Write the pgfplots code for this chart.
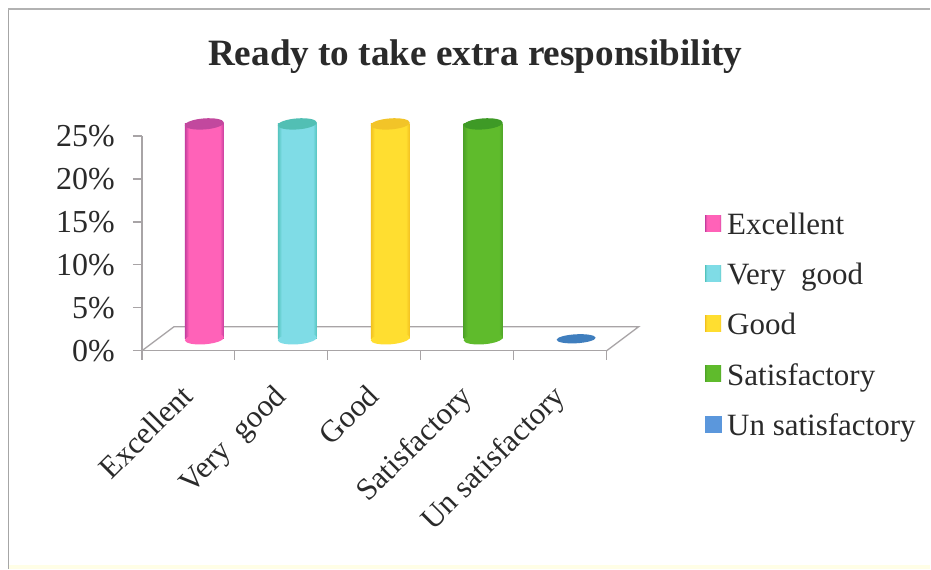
\documentclass[border=0pt]{standalone}
\usepackage{pgfplots}
\pgfplotsset{compat=1.18}
\usepackage{fontspec}
\setmainfont{Liberation Serif}
\definecolor{txt}{HTML}{2A2A2A}
\definecolor{axg}{HTML}{A8A4A6}
\definecolor{pinkM}{HTML}{FF62B8}\definecolor{pinkD}{HTML}{C43E9E}\definecolor{pinkT}{HTML}{C2489E}
\definecolor{tealM}{HTML}{7FDCE6}\definecolor{tealD}{HTML}{55C4BE}\definecolor{tealT}{HTML}{52BFB4}
\definecolor{yelM}{HTML}{FFDE30}\definecolor{yelD}{HTML}{F2C020}\definecolor{yelT}{HTML}{F2C428}
\definecolor{grnM}{HTML}{5FBB2C}\definecolor{grnD}{HTML}{4FA428}\definecolor{grnT}{HTML}{3E9A26}
\definecolor{bluM}{HTML}{3F7EBE}
\definecolor{legB}{HTML}{5B97DC}\definecolor{legT}{HTML}{88DCE8}
\pgfdeclarehorizontalshading{cylP}{100bp}{color(0bp)=(pinkD);color(25bp)=(pinkD);color(30bp)=(pinkM);color(70bp)=(pinkM);color(75bp)=(pinkD);color(100bp)=(pinkD)}
\pgfdeclarehorizontalshading{cylT}{100bp}{color(0bp)=(tealD);color(25bp)=(tealD);color(30bp)=(tealM);color(70bp)=(tealM);color(75bp)=(tealD);color(100bp)=(tealD)}
\pgfdeclarehorizontalshading{cylY}{100bp}{color(0bp)=(yelD);color(25bp)=(yelD);color(30bp)=(yelM);color(70bp)=(yelM);color(75bp)=(yelD);color(100bp)=(yelD)}
\pgfdeclarehorizontalshading{cylG}{100bp}{color(0bp)=(grnD);color(25bp)=(grnD);color(30bp)=(grnM);color(70bp)=(grnM);color(75bp)=(grnD);color(100bp)=(grnD)}
\pgfdeclareplotmark{cyl}{\pgfpathellipse{\pgfpointorigin}{\pgfpoint{19.5pt}{1.5pt}}{\pgfpoint{-0.5pt}{5.5pt}}\pgfusepathqfill}
\pgfdeclareplotmark{cylflat}{\pgfpathellipse{\pgfpointorigin}{\pgfpoint{19.5pt}{1pt}}{\pgfpoint{0pt}{4.5pt}}\pgfusepathqfill}
\pgfplotsset{
  body/.style={ybar, bar width=39pt, bar shift=0pt, draw=none, shading=#1, mark=none, xshift=16pt, yshift=12pt},
  cap/.style={only marks, mark=cyl, mark options={fill=#1, draw=none}, xshift=16pt, yshift=12pt, forget plot},
  leg/.style={legend image code/.code={\fill[#1] (0pt,-19pt) rectangle (16pt,-3pt);\path (20pt,-11pt);}}
}
\begin{document}
\begin{tikzpicture}[x=1pt,y=1pt]
\path[fill=white] (0,0) rectangle (931,569);
\fill[white!90!yellow] (8,0) rectangle (931,3.5);
\draw[black!35, line width=1.5pt] (8.5,0) -- (8.5,560);
\draw[black!30, line width=1.2pt] (8.5,560) -- (931,560);
\begin{axis}[
  at={(142pt,218pt)}, anchor=south west,
  scale only axis, width=465pt, height=215pt,
  xmin=0, xmax=5, ymin=0, ymax=25,
  clip=false,
  axis x line=bottom, axis y line=left,
  axis line style={axg, line width=1.3pt, -},
  tick style={axg, line width=1.3pt},
  xtick={0,1,2,3,4,5}, xticklabels={},
  xtick align=outside, ytick align=outside,
  major tick length=9pt,
  ytick={0,5,10,15,20,25},
  yticklabels={0\%,5\%,10\%,15\%,20\%,25\%},
  yticklabel style={font=\fontsize{32}{32}\selectfont, text=txt, inner sep=2pt, xshift=-16pt},
  extra x ticks={0.5,1.5,2.5,3.5,4.5},
  extra x tick labels={Excellent,Very\ \ good,Good,Satisfactory,Un satisfactory},
  extra x tick style={major tick length=0pt, tick style={draw=none},
    xticklabel style={rotate=45, anchor=north east, font=\fontsize{31}{31}\selectfont, text=txt, inner sep=2pt, xshift=-27pt, yshift=-14pt}},
  legend style={draw=none, fill=none, at={(1.211,0.65)}, anchor=north west,
    font=\fontsize{31}{31}\selectfont, text=txt, row sep=23pt, inner sep=0pt,
    /tikz/every even column/.style={column sep=11pt}},
  legend cell align=left,
]
\addplot[axg, line width=1.3pt, forget plot] coordinates {(0,0) (0.344,2.79) (5.344,2.79) (5,0)};
\addplot[cap=pinkM] coordinates {(0.5,0)};
\addplot[body=cylP, leg=pinkM] coordinates {(0.5,25)};
\addlegendentry{Excellent}
\addplot[cap=pinkT] coordinates {(0.5,25)};
\addplot[cap=tealM] coordinates {(1.5,0)};
\addplot[body=cylT, leg=legT] coordinates {(1.5,25)};
\addlegendentry{Very\ \ good}
\addplot[cap=tealT] coordinates {(1.5,25)};
\addplot[cap=yelM] coordinates {(2.5,0)};
\addplot[body=cylY, leg=yelM] coordinates {(2.5,25)};
\addlegendentry{Good}
\addplot[cap=yelT] coordinates {(2.5,25)};
\addplot[cap=grnM] coordinates {(3.5,0)};
\addplot[body=cylG, leg=grnM] coordinates {(3.5,25)};
\addlegendentry{Satisfactory}
\addplot[cap=grnT] coordinates {(3.5,25)};
\addplot[only marks, mark=cylflat, mark options={fill=bluM, draw=none}, xshift=16pt, yshift=12pt, leg=legB] coordinates {(4.5,0)};
\addlegendentry{Un satisfactory}
\end{axis}
\node[font=\bfseries\fontsize{37.2}{37.2}\selectfont, text=txt, anchor=center] at (475.5,512) {Ready to take extra responsibility};
\path[use as bounding box] (0,0) rectangle (931,569);
\end{tikzpicture}
\end{document}
